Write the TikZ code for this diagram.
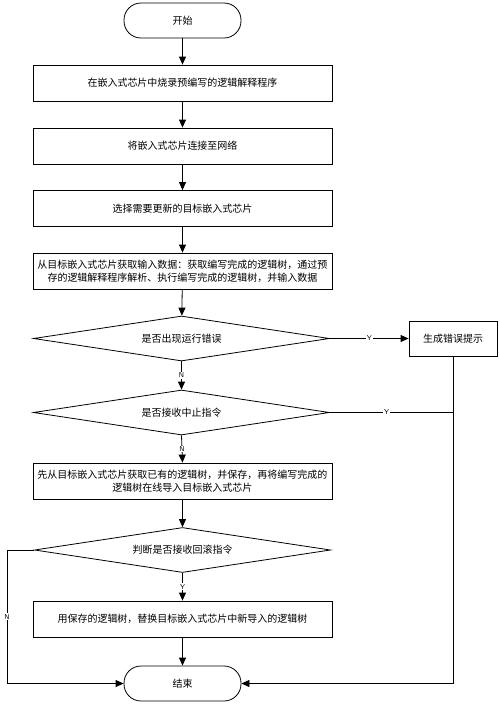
\documentclass[tikz,border=0pt]{standalone}
\usepackage{fontspec}
\newfontfamily\cjk{Noto Sans CJK SC}
\usetikzlibrary{shapes.geometric,arrows.meta}
\begin{document}
\begin{tikzpicture}[
        x=1pt, y=-1pt,
        every node/.style={font=\cjk\fontsize{10}{13}\selectfont},
        term/.style={draw, rounded corners=17pt, minimum width=117pt, minimum height=35pt, inner sep=0pt},
        proc/.style={draw, minimum width=299pt, minimum height=36pt, inner sep=0pt, align=center},
        decide/.style={draw, diamond, aspect=6.5, minimum width=296pt, minimum height=45pt, inner sep=0pt},
        lbl/.style={fill=white, inner sep=1pt, font=\sffamily\fontsize{7}{8}\selectfont},
        arr/.style={-{Triangle[length=8pt,width=7pt]}},
        line width=0.8pt
    ]
        \useasboundingbox (0,0) rectangle (500,705);

        \node (start) at (182.5,20.5) [term] {开始};
        \node (burn) at (182.5,83) [proc] {在嵌入式芯片中烧录预编写的逻辑解释程序};
        \node (connect) at (182.5,146) [proc] {将嵌入式芯片连接至网络};
        \node (select) at (182.5,208.5) [proc] {选择需要更新的目标嵌入式芯片};
        \node (execute) at (182.5,271) [proc] {从目标嵌入式芯片获取输入数据：获取编写完成的逻辑树，通过预\\存的逻辑解释程序解析、执行编写完成的逻辑树，并输入数据};
        \node (runerr) at (181.5,338.5) [decide] {是否出现运行错误};
        \node (errtip) at (453,338.5) [draw, minimum width=88pt, minimum height=35pt] {生成错误提示};
        \node (abort) at (181.5,412.5) [decide] {是否接收中止指令};
        \node (import) at (182.5,481) [proc] {先从目标嵌入式芯片获取已有的逻辑树，并保存，再将编写完成的\\逻辑树在线导入目标嵌入式芯片};
        \node (rollback) at (182.5,550) [decide] {判断是否接收回滚指令};
        \node (replace) at (182.5,619) [proc] {用保存的逻辑树，替换目标嵌入式芯片中新导入的逻辑树};
        \node (finish) at (182.5,683.5) [term] {结束};
        \coordinate (rollN) at (7,550);

        \draw[arr] (start) -- (burn);
        \draw[arr] (burn) -- (connect);
        \draw[arr] (connect) -- (select);
        \draw[arr] (select) -- (execute);
        \draw[arr] (execute) -- (runerr);
        \draw[arr] (runerr.east) -- node[midway,lbl]{Y} (errtip.west);
        \draw[arr] (runerr.south) -- node[midway,lbl]{N} (abort.north);
        \draw (abort.east) -- node[pos=0.46,lbl]{Y} (errtip.south |- abort.east);
        \draw[arr] (abort.south) -- node[midway,lbl]{N} (import.north);
        \draw[arr] (import) -- (rollback);
        \draw[arr] (rollback.south) -- node[midway,lbl]{Y} (replace.north);
        \draw[arr] (replace) -- (finish);
        \draw[arr] (rollback.west) -- (rollN) |- node[pos=0.25,lbl]{N} (finish.west);
        \draw[arr] (errtip.south) |- (finish.east);
    \end{tikzpicture}
\end{document}
